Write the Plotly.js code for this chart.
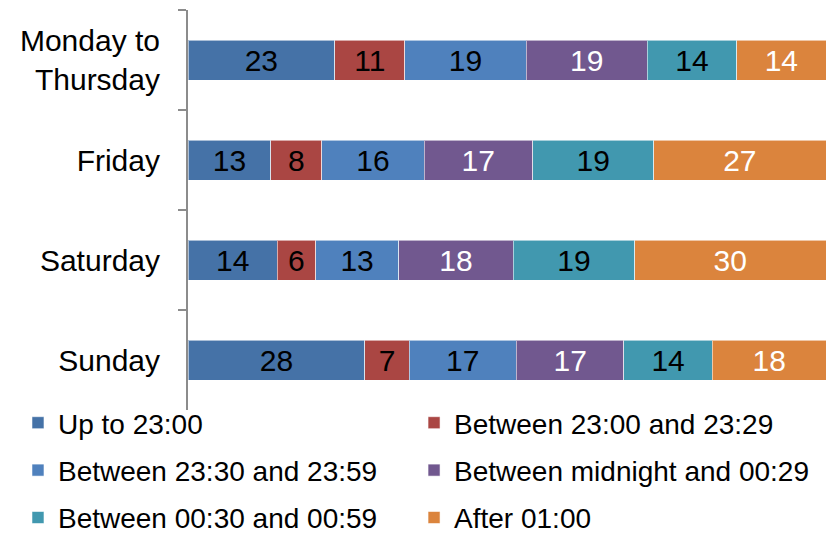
<!DOCTYPE html>
<html>
<head>
<meta charset="utf-8">
<script src="https://cdn.plot.ly/plotly-3.0.1.min.js"></script>
<style>html,body{margin:0;padding:0;background:#fff;}#chart{width:827px;height:537px;}</style>
</head>
<body>
<div id="chart"></div>
<script>
const categories = ["Monday to<br>Thursday", "Friday", "Saturday", "Sunday"];
const seriesNames = ["Up to 23:00", "Between 23:00 and 23:29", "Between 23:30 and 23:59", "Between midnight and 00:29", "Between 00:30 and 00:59", "After 01:00"];
const upTo2300 = [23, 13, 14, 28];
const b2300_2329 = [11, 8, 6, 7];
const b2330_2359 = [19, 16, 13, 17];
const bMidnight_0029 = [19, 17, 18, 17];
const b0030_0059 = [14, 19, 19, 14];
const after0100 = [14, 27, 30, 18];
const colors = ["#4572A7", "#AA4643", "#4F81BD", "#71588F", "#4198AF", "#DB843D"];
const textColors = ["#000", "#000", "#000", "#fff", "#000", "#fff"];
const legendColumn = ["legend", "legend2", "legend", "legend2", "legend", "legend2"];
const seriesValues = [upTo2300, b2300_2329, b2330_2359, bMidnight_0029, b0030_0059, after0100];

const font = "Liberation Sans, Arial, sans-serif";
const traces = seriesValues.map((vals, i) => ({
  type: "bar",
  orientation: "h",
  name: seriesNames[i],
  legend: legendColumn[i],
  legendgroup: "g" + i,
  y: categories,
  x: vals,
  text: vals.map(String),
  texttemplate: "%{text}",
  textposition: "inside",
  insidetextanchor: "middle",
  constraintext: "none",
  textfont: {family: font, size: 30, color: textColors[i]},
  marker: {color: colors[i], line: {color: "rgba(255,255,255,0.55)", width: 1}},
  hoverinfo: "skip"
}));

const legendBase = {
  orientation: "v",
  xref: "paper", yref: "paper",
  xanchor: "left", yanchor: "top",
  y: 0.03,
  font: {family: font, size: 28, color: "#000"},
  traceorder: "grouped",
  tracegroupgap: 8,
  itemwidth: 30,
  bgcolor: "rgba(0,0,0,0)"
};

const layout = {
  width: 827, height: 537,
  margin: {l: 188, r: 1, t: 10, b: 127, autoexpand: false},
  paper_bgcolor: "#fff", plot_bgcolor: "#fff",
  barmode: "stack",
  barnorm: "percent",
  bargap: 0.6,
  showlegend: true,
  font: {family: font, size: 30, color: "#000"},
  xaxis: {range: [0, 100], visible: false, fixedrange: true},
  yaxis: {
    type: "category",
    autorange: "reversed",
    automargin: false,
    tickson: "boundaries",
    ticks: "outside", ticklen: 8, tickwidth: 2, tickcolor: "#8c8c8c",
    showline: true, linecolor: "#8c8c8c", linewidth: 2,
    showgrid: false, zeroline: false,
    ticklabelstandoff: 20,
    tickfont: {family: font, size: 30, color: "#000"}
  },
  legend: Object.assign({}, legendBase, {x: -0.2665}),
  legend2: Object.assign({}, legendBase, {x: 0.3543})
};
Plotly.newPlot("chart", traces, layout, {displayModeBar: false, staticPlot: true});
</script>
</body>
</html>
